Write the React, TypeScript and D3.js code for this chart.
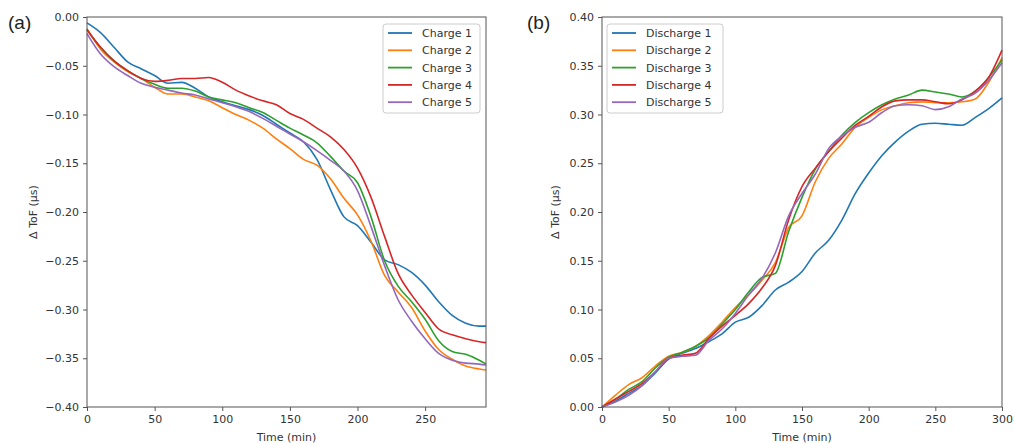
import React, { useEffect, useRef } from "react";
import * as d3 from "d3";

// panel (a): charge curves, every 10 min
const chargeTime = [0, 10, 20, 30, 40, 50, 60, 70, 80, 90, 100, 110, 120, 130, 140, 150, 160, 170, 180, 190, 200, 210, 220, 230, 240, 250, 260, 270, 280, 290, 295];
const charge1 = [-0.006, -0.016, -0.031, -0.046, -0.053, -0.06, -0.068, -0.067, -0.073, -0.082, -0.087, -0.091, -0.095, -0.101, -0.11, -0.119, -0.128, -0.146, -0.177, -0.205, -0.214, -0.231, -0.249, -0.254, -0.262, -0.275, -0.292, -0.306, -0.314, -0.317, -0.317];
const charge2 = [-0.012, -0.033, -0.046, -0.056, -0.063, -0.072, -0.079, -0.079, -0.082, -0.086, -0.093, -0.1, -0.106, -0.114, -0.125, -0.135, -0.146, -0.152, -0.166, -0.186, -0.203, -0.23, -0.265, -0.282, -0.298, -0.322, -0.341, -0.351, -0.358, -0.361, -0.362];
const charge3 = [-0.013, -0.031, -0.045, -0.055, -0.063, -0.069, -0.073, -0.073, -0.076, -0.082, -0.085, -0.088, -0.093, -0.098, -0.106, -0.114, -0.121, -0.129, -0.143, -0.158, -0.17, -0.205, -0.25, -0.276, -0.292, -0.31, -0.332, -0.343, -0.346, -0.352, -0.356];
const charge4 = [-0.013, -0.031, -0.045, -0.055, -0.063, -0.066, -0.065, -0.063, -0.063, -0.062, -0.067, -0.075, -0.081, -0.086, -0.09, -0.099, -0.105, -0.114, -0.123, -0.136, -0.155, -0.185, -0.225, -0.263, -0.285, -0.303, -0.32, -0.326, -0.33, -0.333, -0.334];
const charge5 = [-0.017, -0.038, -0.051, -0.06, -0.068, -0.072, -0.075, -0.078, -0.08, -0.084, -0.088, -0.092, -0.097, -0.104, -0.112, -0.12, -0.128, -0.137, -0.147, -0.158, -0.178, -0.215, -0.255, -0.29, -0.312, -0.33, -0.345, -0.352, -0.355, -0.356, -0.357];

// panel (b): discharge curves
const dischargeTime = [0, 10, 20, 30, 40, 50, 60, 70, 80, 90, 100, 110, 120, 130, 140, 150, 160, 170, 180, 190, 200, 210, 220, 230, 240, 250, 260, 270, 280, 290, 300];
const discharge1 = [0, 0.006, 0.014, 0.022, 0.035, 0.049, 0.055, 0.06, 0.067, 0.075, 0.087, 0.092, 0.104, 0.12, 0.128, 0.139, 0.158, 0.171, 0.192, 0.219, 0.24, 0.258, 0.272, 0.283, 0.29, 0.291, 0.29, 0.289, 0.297, 0.306, 0.317];
const discharge2 = [0, 0.012, 0.023, 0.03, 0.042, 0.052, 0.056, 0.062, 0.073, 0.087, 0.102, 0.115, 0.13, 0.148, 0.184, 0.196, 0.231, 0.255, 0.27, 0.287, 0.297, 0.305, 0.309, 0.312, 0.313, 0.312, 0.312, 0.313, 0.316, 0.333, 0.358];
const discharge3 = [0, 0.008, 0.018, 0.026, 0.04, 0.051, 0.056, 0.062, 0.071, 0.085, 0.1, 0.118, 0.133, 0.137, 0.18, 0.215, 0.244, 0.262, 0.279, 0.292, 0.302, 0.31, 0.316, 0.32, 0.325, 0.323, 0.321, 0.318, 0.324, 0.338, 0.356];
const discharge4 = [0, 0.008, 0.016, 0.024, 0.036, 0.05, 0.053, 0.055, 0.07, 0.083, 0.094, 0.106, 0.122, 0.145, 0.192, 0.226, 0.245, 0.262, 0.276, 0.289, 0.298, 0.308, 0.314, 0.315, 0.315, 0.313, 0.311, 0.315, 0.324, 0.338, 0.366];
const discharge5 = [0, 0.005, 0.012, 0.022, 0.036, 0.05, 0.052, 0.053, 0.068, 0.08, 0.096, 0.115, 0.132, 0.158, 0.196, 0.219, 0.239, 0.265, 0.278, 0.287, 0.292, 0.302, 0.309, 0.31, 0.309, 0.305, 0.308, 0.316, 0.322, 0.335, 0.353];

const chargeNames = ["Charge 1", "Charge 2", "Charge 3", "Charge 4", "Charge 5"];
const dischargeNames = ["Discharge 1", "Discharge 2", "Discharge 3", "Discharge 4", "Discharge 5"];
const chargeXTicks = [0, 50, 100, 150, 200, 250];
const dischargeXTicks = [0, 50, 100, 150, 200, 250, 300];
const chargeYTicks = [0, -0.05, -0.1, -0.15, -0.2, -0.25, -0.3, -0.35, -0.4];
const dischargeYTicks = [0, 0.05, 0.1, 0.15, 0.2, 0.25, 0.3, 0.35, 0.4];
const colors = ["#1f77b4", "#ff7f0e", "#2ca02c", "#d62728", "#9467bd"];

const font = "DejaVu Sans, sans-serif";
const top = 17;
const bottom = 407;

function Panel(props) {
  const { tag, tagX, left, right, xMax, yDomain, xTicks, yTicks, time, series, names, yLabelX, legend } = props;
  const ref = useRef(null);

  useEffect(() => {
    const g = d3.select(ref.current);
    g.selectAll("*").remove();

    const x = d3.scaleLinear().domain([0, xMax]).range([left, right]);
    const y = d3.scaleLinear().domain(yDomain).range([bottom, top]);

    const line = d3.line()
      .x((d) => x(d[0]))
      .y((d) => y(d[1]))
      .curve(d3.curveMonotoneX);

    series.forEach((vals, i) => {
      g.append("path")
        .datum(time.map((t, k) => [t, vals[k]]))
        .attr("d", line)
        .attr("fill", "none")
        .attr("stroke", colors[i])
        .attr("stroke-width", 1.6)
        .attr("stroke-linejoin", "round");
    });

    // frame
    g.append("rect")
      .attr("x", left).attr("y", top)
      .attr("width", right - left).attr("height", bottom - top)
      .attr("fill", "none").attr("stroke", "#555").attr("stroke-width", 1);

    const xAxis = g.append("g")
      .attr("transform", `translate(0,${bottom})`)
      .call(d3.axisBottom(x).tickValues(xTicks).tickSize(4).tickPadding(4).tickFormat(d3.format("d")));
    const yAxis = g.append("g")
      .attr("transform", `translate(${left},0)`)
      .call(d3.axisLeft(y).tickValues(yTicks).tickSize(4).tickPadding(4).tickFormat(d3.format(".2f")));

    [xAxis, yAxis].forEach((a) => {
      a.select(".domain").remove();
      a.selectAll("line").attr("stroke", "#555");
      a.selectAll("text").attr("font-family", font).attr("font-size", 11).attr("fill", "#333");
    });

    g.append("text")
      .attr("x", (left + right) / 2).attr("y", 441)
      .attr("text-anchor", "middle")
      .attr("font-family", font).attr("font-size", 11).attr("fill", "#333")
      .text("Time (min)");

    g.append("text")
      .attr("transform", `translate(${yLabelX},${(top + bottom) / 2}) rotate(-90)`)
      .attr("text-anchor", "middle")
      .attr("font-family", font).attr("font-size", 11).attr("fill", "#333")
      .text("Δ ToF (μs)");

    g.append("text")
      .attr("x", tagX).attr("y", 29)
      .attr("font-family", "Liberation Sans, Arial, sans-serif").attr("font-size", 19).attr("fill", "#222")
      .text(tag);

    // legend
    const lg = g.append("g").attr("transform", `translate(${legend.x},${legend.y})`);
    lg.append("rect")
      .attr("width", legend.w).attr("height", 89).attr("rx", 3)
      .attr("fill", "white").attr("fill-opacity", 0.8)
      .attr("stroke", "#ccc").attr("stroke-width", 1);
    names.forEach((n, i) => {
      const cy = 9 + i * 17.3;
      lg.append("line")
        .attr("x1", 5).attr("x2", 29).attr("y1", cy).attr("y2", cy)
        .attr("stroke", colors[i]).attr("stroke-width", 1.8);
      lg.append("text")
        .attr("x", 39).attr("y", cy + 4)
        .attr("font-family", font).attr("font-size", 11).attr("fill", "#333")
        .text(n);
    });
  });

  return <g ref={ref} />;
}

export default function App() {
  return (
    <svg width={1014} height={444} style={{ position: "absolute", left: 0, top: 0, background: "white" }}>
      <Panel
        tag="(a)" tagX={8}
        left={87} right={486} xMax={295}
        yDomain={[-0.4, 0]} xTicks={chargeXTicks} yTicks={chargeYTicks}
        time={chargeTime}
        series={[charge1, charge2, charge3, charge4, charge5]}
        names={chargeNames}
        yLabelX={37}
        legend={{ x: 383, y: 24, w: 97 }}
      />
      <Panel
        tag="(b)" tagX={527}
        left={602} right={1002} xMax={300}
        yDomain={[0, 0.4]} xTicks={dischargeXTicks} yTicks={dischargeYTicks}
        time={dischargeTime}
        series={[discharge1, discharge2, discharge3, discharge4, discharge5]}
        names={dischargeNames}
        yLabelX={559}
        legend={{ x: 607, y: 24, w: 116 }}
      />
    </svg>
  );
}
